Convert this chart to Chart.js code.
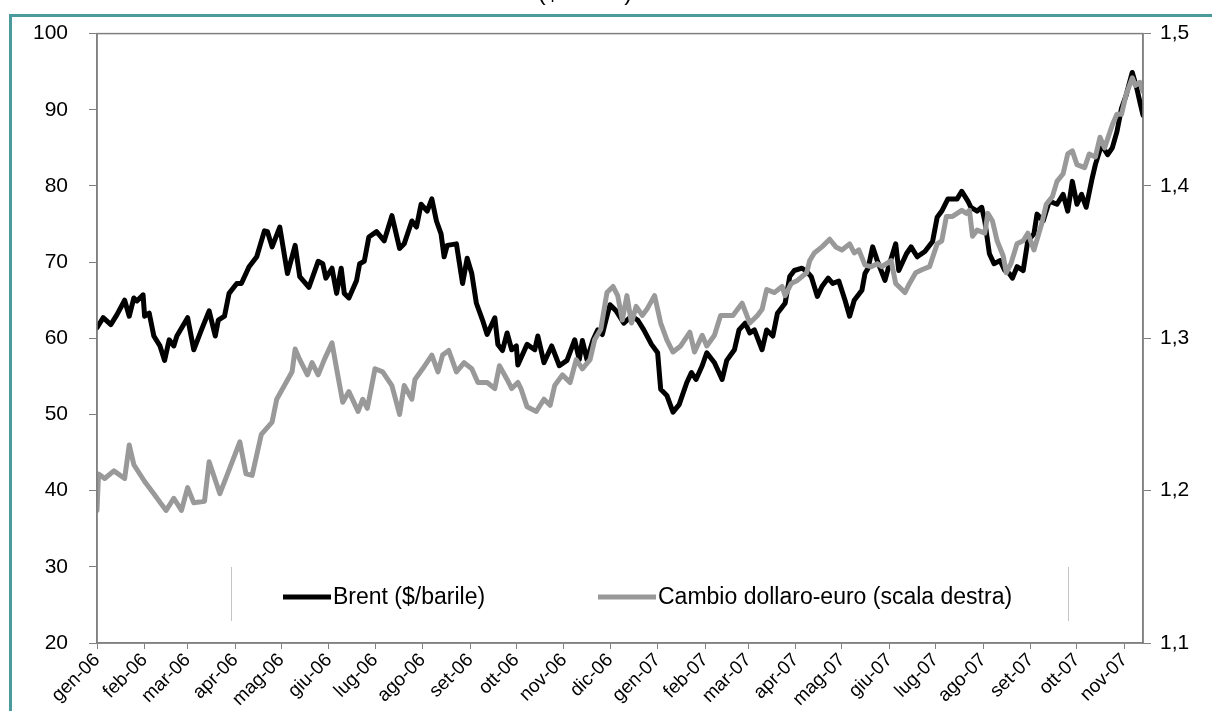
<!DOCTYPE html>
<html>
<head>
<meta charset="utf-8">
<script src="https://cdn.jsdelivr.net/npm/chart.js@4.4.1/dist/chart.umd.min.js"></script>
<style>
  html, body { margin: 0; padding: 0; background: #fff; overflow: hidden; }
  #wrap { position: relative; width: 1212px; height: 711px; }
  #title { position: absolute; left: 0; width: 1170px; top: -20px; text-align: center;
           font: 24px/24px "Liberation Sans", Arial, sans-serif; color: #000; }
  #frameTop { position: absolute; left: 9px; top: 14px; right: 0; height: 3px; background: #4a9a9e; }
  #frameLeft { position: absolute; left: 9px; top: 14px; width: 3px; bottom: 0; background: #4a9a9e; }
  canvas { position: absolute; left: 0; top: 0; }
</style>
</head>
<body>
<div id="wrap">
  <canvas id="chartCanvas" width="1212" height="711"></canvas>
  <div id="title">($/barile)</div>
  <div id="frameTop"></div>
  <div id="frameLeft"></div>
</div>

<script>
// x axis: days counted from 1 Jan 2006, one tick per month
const monthStarts = [0, 31, 59, 90, 120, 151, 181, 212, 243, 273, 304, 334,
                     365, 396, 424, 455, 485, 516, 546, 577, 608, 638, 669];
const monthLabels = ['gen-06', 'feb-06', 'mar-06', 'apr-06', 'mag-06', 'giu-06', 'lug-06', 'ago-06',
                     'set-06', 'ott-06', 'nov-06', 'dic-06', 'gen-07', 'feb-07', 'mar-07', 'apr-07',
                     'mag-07', 'giu-07', 'lug-07', 'ago-07', 'set-07', 'ott-07', 'nov-07'];

const seriesNames = ['Brent ($/barile)', 'Cambio dollaro-euro (scala destra)'];

// Brent, $/barile (left scale)
const brentDays = [0, 4, 9, 13, 18, 21, 24, 26, 30, 31, 34, 37, 41, 44, 47, 50, 52, 59, 63, 68,
  73, 77, 79, 83, 86, 91, 94, 99, 104, 109, 111, 114, 119, 124, 129, 132, 138, 144, 147, 149,
  153, 156, 159, 161, 164, 169, 171, 174, 177, 182, 187, 192, 197, 200, 205, 208, 211, 215, 218, 221,
  224, 226, 228, 234, 238, 241, 244, 247, 251, 254, 259, 261, 264, 267, 270, 273, 274, 280, 285, 287,
  291, 296, 301, 306, 311, 314, 316, 319, 323, 326, 329, 332, 334, 338, 343, 348, 352, 356, 361, 365,
  367, 371, 375, 379, 384, 387, 390, 394, 397, 402, 407, 410, 415, 418, 422, 425, 428, 433, 436, 440,
  443, 448, 451, 454, 459, 462, 465, 469, 472, 476, 479, 483, 487, 490, 493, 498, 500, 502, 505, 508,
  513, 516, 520, 522, 527, 530, 534, 539, 544, 547, 550, 554, 560, 563, 567, 569, 573, 576, 578, 581,
  584, 588, 591, 594, 596, 599, 603, 606, 610, 612, 616, 620, 625, 629, 632, 635, 638, 641, 644, 648,
  650, 654, 658, 661, 664, 667, 670, 674, 677, 679, 681];
const brentValues = [61.4, 62.7, 61.8, 63.1, 65.0, 62.9, 65.3, 64.9, 65.7, 62.9, 63.3, 60.3, 59.0, 57.1, 59.8, 59.0, 60.3, 62.7, 58.5, 61.1,
  63.6, 60.3, 62.4, 62.9, 65.9, 67.2, 67.2, 69.4, 70.7, 74.1, 74.0, 72.0, 74.6, 68.5, 72.2, 68.1, 66.7, 70.1, 69.8, 67.9,
  69.2, 65.9, 69.2, 65.9, 65.3, 67.6, 69.8, 70.1, 73.3, 74.0, 72.8, 76.1, 71.8, 72.4, 75.4, 74.6, 77.6, 76.7, 78.3, 75.4,
  73.7, 70.7, 72.2, 72.4, 67.2, 70.5, 68.5, 64.6, 62.4, 60.5, 62.7, 59.2, 58.4, 60.7, 58.5, 59.0, 56.5, 59.2, 58.5, 60.3,
  56.8, 59.0, 56.4, 57.1, 59.8, 57.2, 59.7, 57.2, 59.8, 61.1, 60.5, 62.9, 64.4, 63.6, 62.0, 62.9, 62.4, 61.1, 59.2, 58.1,
  53.3, 52.5, 50.3, 51.3, 54.2, 55.5, 54.6, 56.4, 58.1, 56.8, 54.6, 57.1, 58.5, 61.1, 62.0, 60.7, 61.1, 58.5, 61.1, 60.3,
  63.3, 64.6, 68.1, 68.9, 69.2, 68.8, 68.1, 65.5, 66.8, 67.9, 67.2, 67.5, 65.0, 62.9, 65.0, 66.3, 68.5, 69.2, 72.0, 70.2,
  67.6, 69.8, 72.4, 68.9, 71.1, 72.0, 70.7, 71.4, 72.7, 75.9, 76.7, 78.3, 78.3, 79.3, 78.0, 77.2, 76.7, 77.2, 75.4, 71.1,
  69.8, 70.2, 68.9, 68.5, 67.9, 69.4, 68.9, 72.8, 73.7, 76.3, 75.4, 78.0, 77.6, 78.9, 76.7, 80.6, 77.6, 78.9, 77.2, 81.1,
  82.8, 85.4, 84.1, 85.0, 87.1, 90.2, 91.9, 94.9, 92.8, 91.0, 89.3];

// Cambio dollaro-euro (right scale)
const euroDays = [0, 1, 5, 11, 18, 21, 24, 31, 37, 42, 45, 50, 55, 59, 63, 70, 73, 80, 85, 93,
  97, 101, 107, 114, 117, 122, 127, 129, 132, 137, 140, 144, 148, 153, 156, 160, 164, 170, 173, 176,
  181, 186, 192, 197, 200, 205, 207, 212, 218, 222, 225, 229, 234, 239, 244, 248, 254, 259, 262, 267,
  270, 274, 276, 280, 286, 291, 295, 298, 303, 308, 312, 316, 321, 324, 328, 332, 336, 339, 342, 345,
  348, 351, 355, 358, 363, 367, 371, 375, 380, 386, 389, 394, 397, 402, 406, 410, 414, 420, 425, 430,
  433, 436, 441, 446, 448, 452, 456, 462, 464, 467, 472, 477, 481, 485, 490, 493, 496, 500, 504, 508,
  511, 517, 520, 526, 529, 533, 537, 542, 547, 550, 553, 557, 563, 566, 568, 570, 573, 578, 580, 583,
  586, 590, 592, 595, 599, 603, 606, 610, 615, 618, 622, 625, 629, 632, 635, 638, 643, 646, 650, 653,
  656, 661, 664, 667, 670, 674, 676, 679, 681];
const euroValues = [1.187, 1.211, 1.208, 1.213, 1.208, 1.230, 1.217, 1.206, 1.198, 1.191, 1.187, 1.195, 1.187, 1.202, 1.192, 1.193, 1.219, 1.198, 1.211, 1.232,
  1.211, 1.210, 1.237, 1.245, 1.260, 1.269, 1.278, 1.293, 1.286, 1.276, 1.284, 1.276, 1.286, 1.297, 1.280, 1.258, 1.265, 1.252, 1.260, 1.254,
  1.280, 1.278, 1.269, 1.250, 1.269, 1.260, 1.273, 1.280, 1.289, 1.278, 1.289, 1.292, 1.278, 1.284, 1.280, 1.271, 1.271, 1.267, 1.282, 1.273,
  1.267, 1.271, 1.267, 1.255, 1.252, 1.260, 1.256, 1.269, 1.276, 1.271, 1.286, 1.280, 1.286, 1.299, 1.306, 1.330, 1.334, 1.328, 1.312, 1.328,
  1.310, 1.321, 1.315, 1.319, 1.328, 1.310, 1.299, 1.291, 1.295, 1.304, 1.291, 1.302, 1.295, 1.302, 1.315, 1.315, 1.315, 1.323, 1.310, 1.315,
  1.319, 1.332, 1.330, 1.334, 1.328, 1.336, 1.338, 1.343, 1.351, 1.356, 1.360, 1.365, 1.360, 1.358, 1.362, 1.356, 1.358, 1.348, 1.347, 1.349,
  1.347, 1.351, 1.336, 1.330, 1.336, 1.343, 1.345, 1.347, 1.362, 1.364, 1.380, 1.380, 1.384, 1.382, 1.384, 1.367, 1.371, 1.369, 1.382, 1.377,
  1.364, 1.354, 1.343, 1.349, 1.362, 1.364, 1.369, 1.358, 1.375, 1.388, 1.393, 1.403, 1.408, 1.421, 1.423, 1.414, 1.412, 1.421, 1.419, 1.432,
  1.425, 1.440, 1.447, 1.447, 1.460, 1.471, 1.466, 1.468, 1.462];

const FONT = '"Liberation Sans", Arial, sans-serif';
const AXIS_GREY = '#808080';

// plot frame + legend drawn inside the plot, like the original
const frameAndLegend = {
  id: 'frameAndLegend',
  afterDraw(chart) {
    const { ctx, chartArea: a } = chart;
    ctx.save();
    ctx.strokeStyle = AXIS_GREY;
    ctx.lineWidth = 1.5;
    ctx.strokeRect(a.left, a.top, a.right - a.left, a.bottom - a.top);

    // legend box sides
    ctx.strokeStyle = '#c4c4c4';
    ctx.lineWidth = 1;
    [231.5, 1068.5].forEach(x => {
      ctx.beginPath();
      ctx.moveTo(x, 567);
      ctx.lineTo(x, 621);
      ctx.stroke();
    });

    const slots = [{ x: 283, w: 48 }, { x: 598, w: 58 }];
    ctx.font = `23px ${FONT}`;
    ctx.textBaseline = 'middle';
    ctx.fillStyle = '#000';
    chart.data.datasets.forEach((ds, i) => {
      const s = slots[i];
      ctx.strokeStyle = ds.borderColor;
      ctx.lineWidth = ds.borderWidth;
      ctx.beginPath();
      ctx.moveTo(s.x, 597);
      ctx.lineTo(s.x + s.w, 597);
      ctx.stroke();
      ctx.fillText(ds.label, s.x + s.w + 2, 598);
    });
    ctx.restore();
  }
};

const ctx = document.getElementById('chartCanvas').getContext('2d');
new Chart(ctx, {
  type: 'line',
  data: {
    datasets: [{
      label: seriesNames[0],
      data: brentDays.map((d, i) => ({ x: d, y: brentValues[i] })),
      yAxisID: 'y',
      borderColor: '#000000',
      borderWidth: 5,
      pointRadius: 0,
      tension: 0,
      borderJoinStyle: 'round',
      borderCapStyle: 'round',
      order: 1
    }, {
      label: seriesNames[1],
      data: euroDays.map((d, i) => ({ x: d, y: euroValues[i] })),
      yAxisID: 'y1',
      borderColor: '#999999',
      borderWidth: 5,
      pointRadius: 0,
      tension: 0,
      borderJoinStyle: 'round',
      borderCapStyle: 'round',
      order: 0
    }]
  },
  options: {
    responsive: false,
    animation: false,
    layout: { padding: { top: 28, left: 0, right: 0, bottom: 0 } },
    plugins: { legend: { display: false }, tooltip: { enabled: false } },
    scales: {
      x: {
        type: 'linear',
        min: 0,
        max: 681,
        afterBuildTicks: scale => { scale.ticks = monthStarts.map(v => ({ value: v })); },
        afterFit: scale => { scale.height = 68; },
        grid: { drawOnChartArea: false, tickLength: 6, color: AXIS_GREY },
        border: { color: AXIS_GREY, width: 1.5 },
        ticks: {
          autoSkip: false,
          maxRotation: 45,
          minRotation: 45,
          padding: 0,
          color: '#000',
          font: { family: FONT, size: 19 },
          callback: v => monthLabels[monthStarts.indexOf(v)]
        }
      },
      y: {
        position: 'left',
        min: 20,
        max: 100,
        afterFit: scale => { scale.width = 97; },
        grid: { drawOnChartArea: false, tickLength: 8, color: AXIS_GREY },
        border: { color: AXIS_GREY, width: 1.5 },
        ticks: { stepSize: 10, padding: 21, color: '#000', font: { family: FONT, size: 21 } }
      },
      y1: {
        position: 'right',
        min: 1.1,
        max: 1.5,
        afterFit: scale => { scale.width = 69; },
        grid: { drawOnChartArea: false, tickLength: 8, color: AXIS_GREY },
        border: { color: AXIS_GREY, width: 1.5 },
        ticks: {
          stepSize: 0.1,
          padding: 9,
          color: '#000',
          font: { family: FONT, size: 21 },
          callback: v => v.toFixed(1).replace('.', ',')
        }
      }
    }
  },
  plugins: [frameAndLegend]
});
</script>
</body>
</html>
